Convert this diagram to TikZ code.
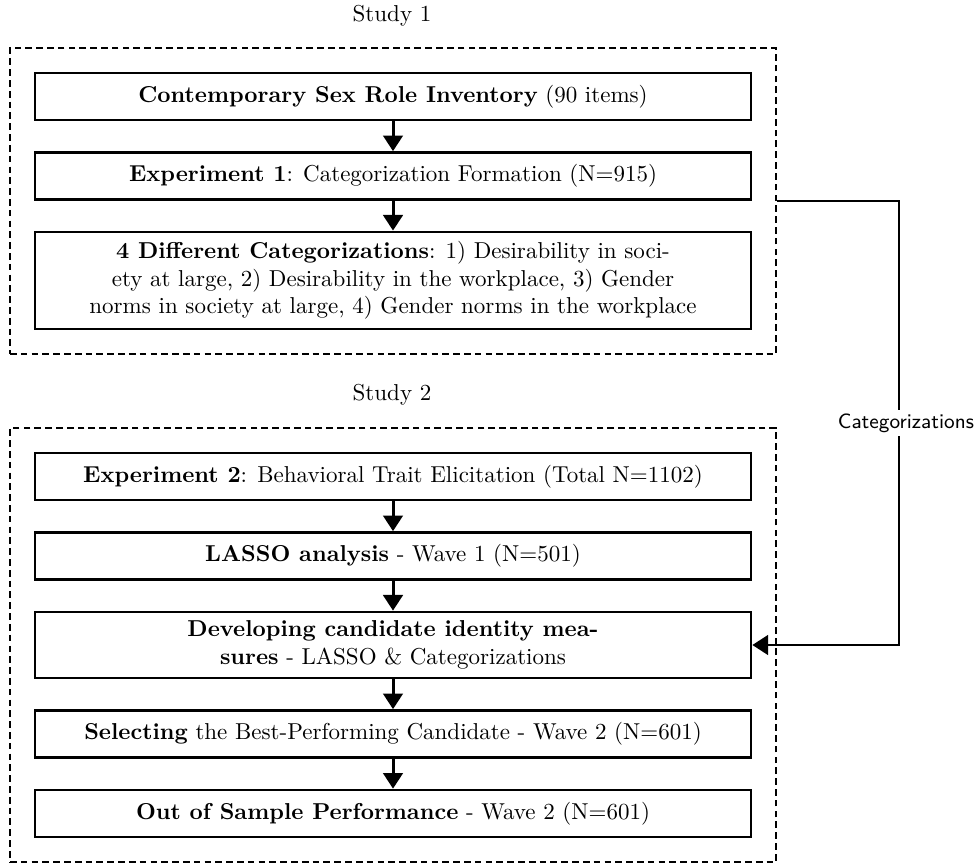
\documentclass[tikz,border=0pt]{standalone}
\usetikzlibrary{arrows.meta,fit}
\begin{document}
\begin{tikzpicture}[x=0.4348pt,y=-0.4348pt,
  stepbox/.style={draw,line width=1.2pt,minimum width=311.3pt,inner sep=2pt,align=center,font=\normalsize},
  dashbox/.style={draw,line width=1pt,dash pattern=on 2.9pt off 1.8pt,inner sep=0pt},
  flow/.style={line width=1.3pt,-{Triangle[width=8.5pt,length=6.8pt]}},
  link/.style={line width=1.1pt,-{Triangle[width=8.5pt,length=6.8pt]}},
  lbl/.style={font=\normalsize}]
\useasboundingbox (0,0) rectangle (977,864);
% Study 1
\node[lbl] (t1) at (392,16) {Study 1};
\coordinate (p1) at (10,48);
\coordinate (p2) at (776,354);
\node[dashbox,fit=(p1)(p2)] (s1) {};
\node[stepbox,minimum height=20.4pt] (b1) at (393,96.5) {\textbf{Contemporary Sex Role Inventory} (90 items)};
\node[stepbox,minimum height=20.4pt] (b2) at (393,176) {\textbf{Experiment 1}: Categorization Formation (N=915)};
\node[stepbox,minimum height=42.2pt] (b3) at (393,280.5) {\textbf{4 Different Categorizations}: 1) Desirability in soci-\\ety at large, 2) Desirability in the workplace, 3) Gender\\norms in society at large, 4) Gender norms in the workplace};
% Study 2
\node[lbl] (t2) at (392,395) {Study 2};
\coordinate (p3) at (10,428);
\coordinate (p4) at (776,862);
\node[dashbox,fit=(p3)(p4)] (s2) {};
\node[stepbox,minimum height=20.4pt] (b4) at (393,476.5) {\textbf{Experiment 2}: Behavioral Trait Elicitation (Total N=1102)};
\node[stepbox,minimum height=20.4pt] (b5) at (393,556) {\textbf{LASSO analysis} - Wave 1 (N=501)};
\node[stepbox,minimum height=28.7pt] (b6) at (393,645) {\textbf{Developing candidate identity mea-}\\\textbf{sures} - LASSO \& Categorizations};
\node[stepbox,minimum height=20.4pt] (b7) at (393,734) {\textbf{Selecting} the Best-Performing Candidate - Wave 2 (N=601)};
\node[stepbox,minimum height=20.4pt] (b8) at (393,813.5) {\textbf{Out of Sample Performance} - Wave 2 (N=601)};
% arrows
\draw[flow] (b1) -- (b2);
\draw[flow] (b2) -- (b3);
\draw[flow] (b4) -- (b5);
\draw[flow] (b5) -- (b6);
\draw[flow] (b6) -- (b7);
\draw[flow] (b7) -- (b8);
\coordinate (c1) at (899,201);
\draw[link] (s1.east) -- (c1) |- node[pos=0.25,fill=white,inner sep=1.5pt,font=\small\sffamily,xshift=3pt] {Categorizations} (b6.east);
\end{tikzpicture}
\end{document}
